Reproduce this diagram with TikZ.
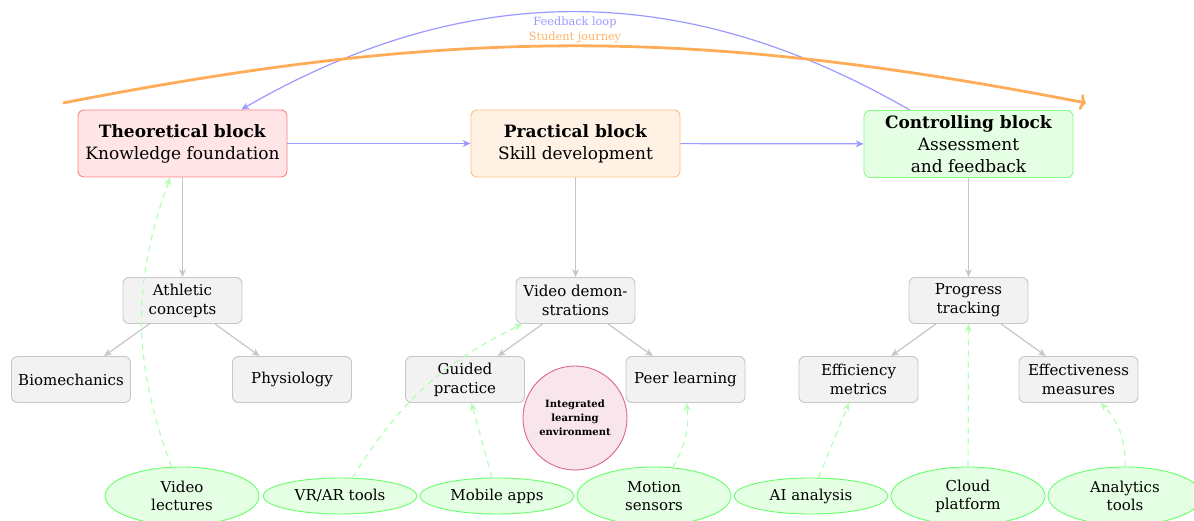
\documentclass[tikz,border=0pt]{standalone}
\usepackage{fontspec}
\setmainfont{DejaVu Serif}
\usetikzlibrary{arrows.meta,shapes.geometric}
\begin{document}
\begin{tikzpicture}[x=1pt,y=1pt,
  block/.style={draw, rounded corners=6pt, line width=0.9pt, minimum width=209pt, minimum height=67pt, align=center, font=\fontsize{17}{22}\selectfont, inner sep=2pt},
  sub/.style={draw=gray!45, fill=gray!10, rounded corners=6pt, line width=0.9pt, minimum width=119pt, minimum height=46pt, align=center, font=\fontsize{15}{19}\selectfont, inner sep=2pt},
  tool/.style={ellipse, draw=green!60, fill=green!10, line width=0.9pt, minimum width=154pt, minimum height=36pt, inner sep=0pt, align=center, font=\fontsize{15}{18}\selectfont},
  tall/.style={minimum height=58pt},
  tree/.style={draw=gray!45, line width=1.2pt, -{Stealth[length=8pt,width=7pt]}},
  flow/.style={draw=blue!40, line width=1.2pt, -{Stealth[length=8pt,width=7pt]}},
  support/.style={draw=green!30, line width=1.2pt, dash pattern=on 6pt off 5pt, -{Stealth[length=8pt,width=7pt]}},
  journey/.style={draw=orange!65, line width=2.8pt, -{To[length=6pt,width=16pt]}},
  toplabel/.style={font=\fontsize{11.3}{13}\selectfont, inner sep=0pt},
]
\useasboundingbox (0,0) rectangle (1194,521);

% main blocks
\node[block, fill=red!10, draw=red!50] (theo) at (182.5,377.5) {\textbf{Theoretical block}\\Knowledge foundation};
\node[block, fill=orange!10, draw=orange!50] (prac) at (575.5,377.5) {\textbf{Practical block}\\Skill development};
\node[block, fill=green!10, draw=green!50] (ctrl) at (968.5,377) {\textbf{Controlling block}\\Assessment\\and feedback};

% second level
\node[sub] (ath) at (182.5,220.5) {Athletic\\concepts};
\node[sub] (vid) at (575.5,220.5) {Video demon-\\strations};
\node[sub] (prog) at (968.5,220.5) {Progress\\tracking};

% third level
\node[sub] (bio) at (71,141.5) {Biomechanics};
\node[sub] (phys) at (292,141.5) {Physiology};
\node[sub] (guid) at (465,141.5) {Guided\\practice};
\node[sub] (peer) at (685.5,141.5) {Peer learning};
\node[sub] (eff) at (858.5,141.5) {Efficiency\\metrics};
\node[sub] (effm) at (1078.5,141.5) {Effectiveness\\measures};

% centre circle
\node[circle, draw=purple!60, fill=purple!10, line width=0.9pt, minimum size=104pt, inner sep=0pt, align=center, font=\fontsize{10}{14}\selectfont\bfseries] (ile) at (575,103) {Integrated\\learning\\environment};

% tools
\node[tool, tall] (vl) at (182,25) {Video\\lectures};
\node[tool] (vr) at (340,25) {VR/AR tools};
\node[tool] (ma) at (497,25) {Mobile apps};
\node[tool, tall] (ms) at (654,25) {Motion\\sensors};
\node[tool] (ai) at (811,25) {AI analysis};
\node[tool, tall] (cp) at (968,25) {Cloud\\platform};
\node[tool, tall] (at) at (1125,25) {Analytics\\tools};

% flow arrows
\draw[flow] (theo) -- (prac);
\draw[flow] (prac) -- (ctrl);

% tree arrows
\draw[tree] (theo) -- (ath);
\draw[tree] (prac) -- (vid);
\draw[tree] (ctrl) -- (prog);
\draw[tree] (ath) -- (bio);
\draw[tree] (ath) -- (phys);
\draw[tree] (vid) -- (guid);
\draw[tree] (vid) -- (peer);
\draw[tree] (prog) -- (eff);
\draw[tree] (prog) -- (effm);

% support arrows
\draw[support] (vl) to[bend left=20] (theo);
\draw[support] (vr) to[bend left=16] (vid);
\draw[support] (ma) -- (guid);
\draw[support] (ms) to[bend right=18] (peer);
\draw[support] (ai) -- (eff);
\draw[support] (cp) -- (prog);
\draw[support] (at) to[bend right=22] (effm);

% feedback loop
\draw[flow] (ctrl.150) .. controls +(150:261) and +(30:261) .. (theo.30);
\node[toplabel, text=blue!40] (fbl) at (575,499) {Feedback loop};

% student journey
\coordinate (js) at (63,418);
\coordinate (je) at (1086,418);
\draw[journey] (js) to[bend left=11] (je);
\node[toplabel, text=orange!60] (sjl) at (575,484) {Student journey};
\end{tikzpicture}
\end{document}
